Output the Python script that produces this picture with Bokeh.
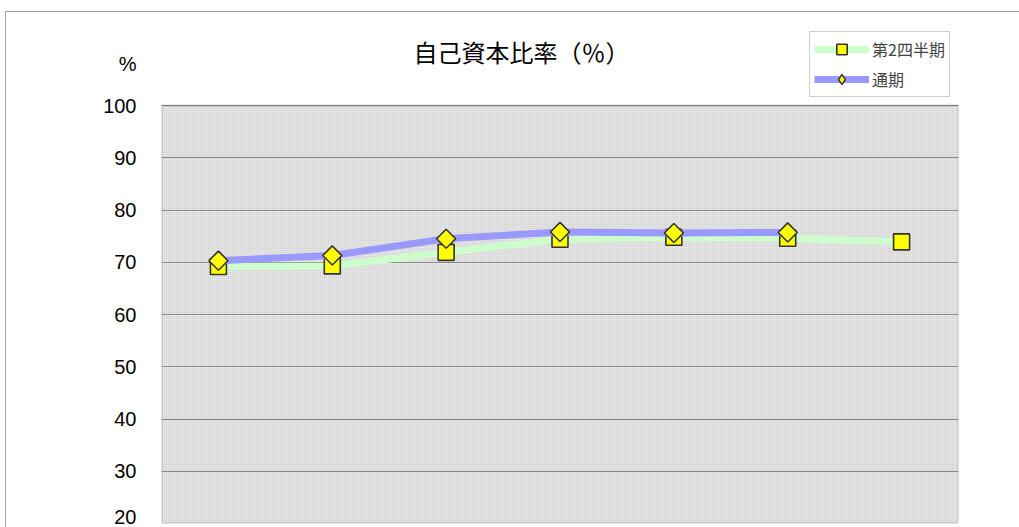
import numpy as np
from bokeh.plotting import figure
from bokeh.models import Label, Legend, LegendItem, BoxAnnotation, Range1d, FixedTicker
from bokeh.embed import file_html
from bokeh.resources import INLINE

# ---- data ----
periods = [1, 2, 3, 4, 5, 6, 7]
q2_values = [69.2, 69.3, 71.9, 74.4, 74.8, 74.6, 73.9]
full_periods = [1, 2, 3, 4, 5, 6]
full_values = [70.3, 71.3, 74.5, 75.8, 75.6, 75.7]
y_ticks = [20, 30, 40, 50, 60, 70, 80, 90, 100]
title_text = "自己資本比率（％）"
unit_text = "%"
legend_labels = ["第2四半期", "通期"]

# layout: plot area spans 20..100; the frame extends above it to hold title/legend
Y_MIN, Y_MAX, Y_TOP = 20, 100, 116.08
UNIT_POS = 108.0

W, H = 1014, 516
p = figure(width=W, height=H, output_backend="svg", toolbar_location=None,
           x_range=Range1d(0.5, 7.5), y_range=Range1d(Y_MIN, Y_TOP),
           min_border_left=155, min_border_right=62, min_border_top=9, min_border_bottom=5)
p.margin = (11, 0, 0, 5)
p.styles = {"border-top": "1px solid #a6a6a6", "border-left": "1px solid #a6a6a6"}

p.background_fill_color = "white"
p.outline_line_color = None
p.add_layout(BoxAnnotation(left=0.5, right=7.5, bottom=Y_MIN, top=Y_MAX, fill_color="#d9d9d9",
                           fill_alpha=1, line_alpha=0, hatch_pattern=".", hatch_color="white",
                           hatch_scale=2, hatch_alpha=0.8, level="image"))
p.add_layout(BoxAnnotation(left=0.5, right=7.5, bottom=Y_MIN, top=Y_MAX, fill_alpha=0,
                           line_color="#6e6e6e", line_width=2, level="glyph"))

p.xaxis.visible = False
p.xgrid.visible = False
p.ygrid.ticker = FixedTicker(ticks=y_ticks)
p.ygrid.grid_line_color = "#8a8a8a"
p.ygrid.grid_line_width = 1
p.ygrid.level = "underlay"
p.yaxis.ticker = FixedTicker(ticks=y_ticks + [UNIT_POS])
p.yaxis.major_label_overrides = {UNIT_POS: unit_text}
p.yaxis.axis_line_color = None
p.yaxis.major_tick_line_color = None
p.yaxis.minor_tick_line_color = None
p.yaxis.major_tick_out = 0
p.yaxis.major_tick_in = 0
p.yaxis.minor_tick_out = 0
p.yaxis.major_label_text_font = "Liberation Sans"
p.yaxis.major_label_text_font_size = "20px"
p.yaxis.major_label_text_color = "#000000"
p.yaxis.major_label_standoff = 25

# series 1
l1 = p.line(periods, q2_values, line_color="#ccffcc", line_width=7)
m1 = p.scatter(periods, q2_values, marker="square", size=16, fill_color="#ffff00",
               line_color="#333333", line_width=1.6)
# series 2
l2 = p.line(full_periods, full_values, line_color="#9999ff", line_width=7)
m2 = p.scatter(full_periods, full_values, marker="square", angle=np.pi / 4, size=13.5,
               fill_color="#ffff00", line_color="#333333", line_width=1.6)
# legend-only diamond symbol (hidden in the plot itself)
m2_leg = p.scatter(full_periods, full_values, marker="diamond", size=19, fill_color="#ffff00",
                   line_color="#333333", line_width=1.4, visible=False)

p.add_layout(Label(x=360, y=472, x_units="screen", y_units="screen", text=title_text,
                   text_font="Noto Sans CJK JP", text_font_size="24px",
                   text_align="center", text_baseline="middle", text_color="#000000"))

legend = Legend(items=[LegendItem(label=legend_labels[0], renderers=[l1, m1]),
                       LegendItem(label=legend_labels[1], renderers=[l2, m2_leg])],
                location=(648, 426), margin=0, padding=4, spacing=4,
                glyph_height=26, glyph_width=55, label_height=26, label_standoff=3,
                label_text_font="Noto Sans CJK JP", label_text_font_size="16px",
                border_line_color="#a0a0a0", border_line_width=1,
                background_fill_color="white", background_fill_alpha=1,
                inactive_fill_alpha=0)
p.add_layout(legend)

open("out.html", "w").write(file_html(p, INLINE))
